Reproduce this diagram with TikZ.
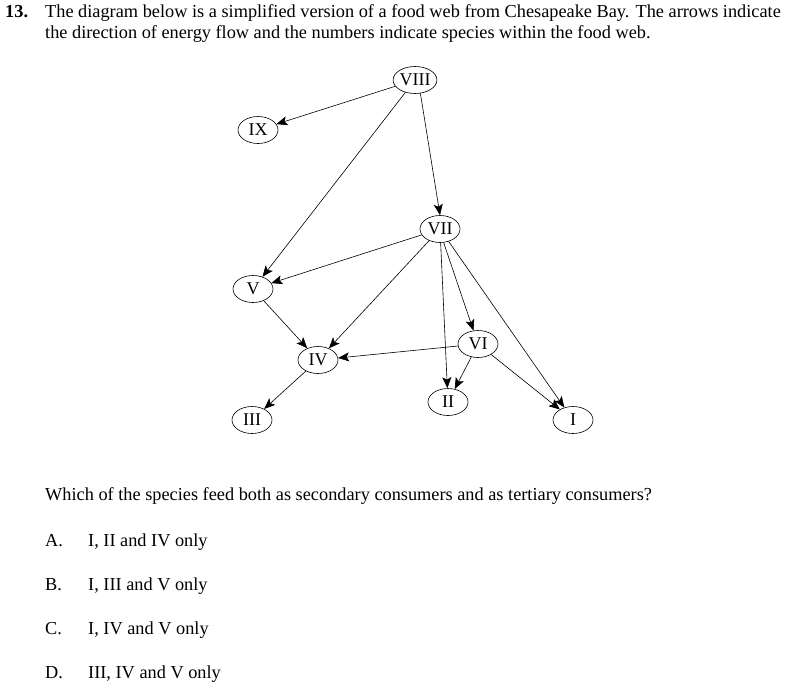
\documentclass[tikz,border=0pt]{standalone}
\usepackage{fontspec}
\setmainfont{Liberation Serif}
\usetikzlibrary{shapes.geometric,arrows.meta}
\begin{document}
\begin{tikzpicture}[x=1pt,y=-1pt,
  sp/.style={ellipse,draw,line width=0.6pt,minimum width=40pt,minimum height=27pt,inner sep=0pt,font=\fontsize{18}{20}\selectfont},
  flow/.style={draw,line width=0.6pt,-{Stealth[length=11pt,width=9pt,inset=2.5pt]},shorten >=0pt},
  txt/.style={anchor=base west,inner sep=0pt,font=\fontsize{18.3}{21}\selectfont}]
\useasboundingbox (0,0) rectangle (786,685);
% header
\node[txt,font=\fontsize{18.3}{21}\selectfont\bfseries] (num) at (5,18) {13.};
\node[txt] (l1) at (45,18) {The diagram below is a simplified version of a food web from Chesapeake Bay. The arrows indicate};
\node[txt] (l2) at (45,39) {the direction of energy flow and the numbers indicate species within the food web.};
% nodes
\node[sp] (VIII) at (415,80) {VIII};
\node[sp] (IX) at (258,130) {IX};
\node[sp] (VII) at (440,229) {VII};
\node[sp] (V) at (253,289) {V};
\node[sp] (VI) at (478,344) {VI};
\node[sp] (IV) at (318,360) {IV};
\node[sp] (II) at (448,402) {II};
\node[sp] (III) at (252,420) {III};
\node[sp] (I) at (573,420) {I};
% edges
\draw[flow] (VIII) -- (IX);
\draw[flow] (VIII) -- (V);
\draw[flow] (VIII.-68) -- (VII.north);
\draw[flow] (VII) -- (V);
\draw[flow] (VII) -- (IV);
\draw[flow] (VII) -- (II);
\draw[flow] (VII.-75) -- (VI);
\draw[flow] (VII) -- (I);
\draw[flow] (VI) -- (IV);
\draw[flow] (VI) -- (II);
\draw[flow] (VI) -- (I);
\draw[flow] (V) -- (IV);
\draw[flow] (IV) -- (III);
% question
\node[txt] (q) at (45,500) {Which of the species feed both as secondary consumers and as tertiary consumers?};
\node[txt] (a) at (45,546) {A.};
\node[txt] (at) at (88,546) {I, II and IV only};
\node[txt] (b) at (45,590) {B.};
\node[txt] (bt) at (88,590) {I, III and V only};
\node[txt] (c) at (45,634) {C.};
\node[txt] (ct) at (88,634) {I, IV and V only};
\node[txt] (d) at (45,678) {D.};
\node[txt] (dt) at (88,678) {III, IV and V only};
\end{tikzpicture}
\end{document}
